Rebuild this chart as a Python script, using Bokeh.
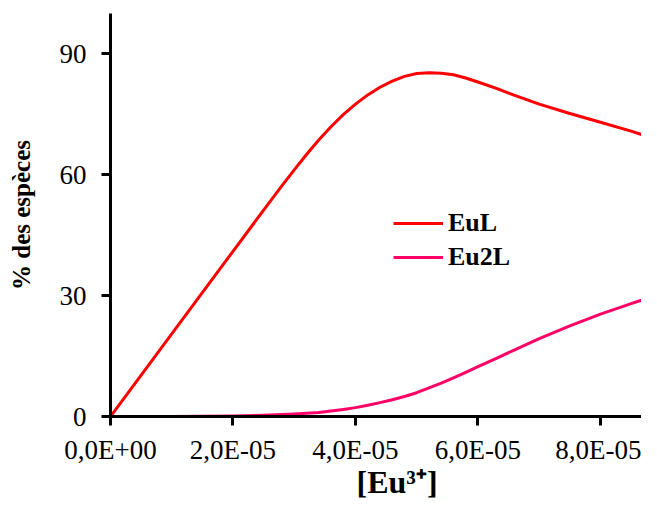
from bokeh.plotting import figure
from bokeh.models import (Range1d, FixedTicker, CustomJSTickFormatter, Legend, LegendItem, Title)
from bokeh.embed import file_html
from bokeh.resources import INLINE

# ---- data ----
eu_conc = [0.0, 1.0e-5, 2.0e-5, 2.5e-5, 2.8e-5, 3.0e-5, 3.2e-5, 3.4e-5, 3.6e-5, 3.8e-5,
           4.0e-5, 4.2e-5, 4.4e-5, 4.6e-5, 4.8e-5, 5.0e-5, 5.2e-5, 5.4e-5, 5.6e-5, 5.8e-5,
           6.0e-5, 6.3e-5, 6.6e-5, 7.0e-5, 7.5e-5, 8.0e-5, 8.5e-5, 8.9e-5]
eul = [0.0, 20.5, 41.0, 51.2, 57.3, 61.2, 65.0, 68.6, 71.9, 74.9,
       77.5, 79.8, 81.7, 83.2, 84.4, 85.1, 85.3, 85.2, 84.8, 84.0,
       83.0, 81.4, 79.7, 77.5, 75.2, 73.0, 70.8, 68.8]
eu2l = [0.0, 0.02, 0.12, 0.3, 0.5, 0.65, 0.8, 1.0, 1.35, 1.75,
        2.2, 2.8, 3.45, 4.15, 4.95, 5.9, 7.1, 8.3, 9.6, 10.95,
        12.35, 14.45, 16.55, 19.3, 22.5, 25.4, 28.0, 30.0]
series_names = ["EuL", "Eu2L"]
series_colors = ["#FF0000", "#FF0066"]
x_ticks = [0.0, 2e-5, 4e-5, 6e-5, 8e-5]
x_tick_labels = ["0,0E+00", "2,0E-05", "4,0E-05", "6,0E-05", "8,0E-05"]
y_ticks = [0, 30, 60, 90]
x_title = "[Eu³⁺]"
y_title = "% des espèces"

FONT = "Liberation Serif"
X_END = 8.67e-5

p = figure(width=641, height=498, output_backend="svg", toolbar_location=None,
           x_range=Range1d(0, X_END), y_range=Range1d(0, 100),
           min_border_left=110, min_border_right=0, min_border_top=13, min_border_bottom=82)
p.outline_line_color = None
p.xgrid.grid_line_color = None
p.ygrid.grid_line_color = None
p.background_fill_color = "white"
p.border_fill_color = "white"

r1 = p.line(eu_conc, eul, line_color=series_colors[0], line_width=3, line_join="round")
r2 = p.line(eu_conc, eu2l, line_color=series_colors[1], line_width=3, line_join="round")

for ax in (p.xaxis[0], p.yaxis[0]):
    ax.axis_line_width = 3
    ax.axis_line_color = "black"
    ax.major_tick_line_width = 3
    ax.major_tick_line_color = "black"
    ax.major_tick_in = 0
    ax.major_tick_out = 9
    ax.minor_tick_line_color = None
    ax.major_label_text_font = FONT
    ax.major_label_text_font_size = "27px"
    ax.major_label_text_color = "black"

p.xaxis.ticker = FixedTicker(ticks=x_ticks)
p.xaxis.formatter = CustomJSTickFormatter(
    args=dict(vals=x_ticks, labels=x_tick_labels),
    code="""
for (let i = 0; i < vals.length; i++) {
  if (Math.abs(tick - vals[i]) < 1e-9) { return labels[i]; }
}
return "";
""")
p.xaxis.major_label_standoff = 9

p.yaxis.ticker = FixedTicker(ticks=y_ticks)
p.yaxis.major_label_standoff = 15
p.yaxis.axis_label = y_title
p.yaxis.axis_label_text_font = FONT
p.yaxis.axis_label_text_font_size = "25px"
p.yaxis.axis_label_text_font_style = "bold"
p.yaxis.axis_label_text_color = "black"
p.yaxis.axis_label_standoff = 22

# x-axis title as a title placed below the axis, shifted to the right
xt = Title(text=x_title, align="left", offset=246, standoff=-9, vertical_align="middle",
           text_font=FONT, text_font_size="32px", text_font_style="bold",
           text_color="black")
p.add_layout(xt, "below")

legend = Legend(items=[LegendItem(label=series_names[0], renderers=[r1]),
                       LegendItem(label=series_names[1], renderers=[r2])],
                location=(283, 144))
legend.border_line_color = None
legend.background_fill_alpha = 0
legend.padding = 0
legend.margin = 0
legend.spacing = 4
legend.glyph_width = 50
legend.glyph_height = 30
legend.label_height = 30
legend.label_standoff = 5
legend.label_text_font = FONT
legend.label_text_font_size = "26px"
legend.label_text_font_style = "bold"
legend.label_text_color = "black"
p.add_layout(legend)

open("out.html", "w").write(file_html(p, INLINE))
